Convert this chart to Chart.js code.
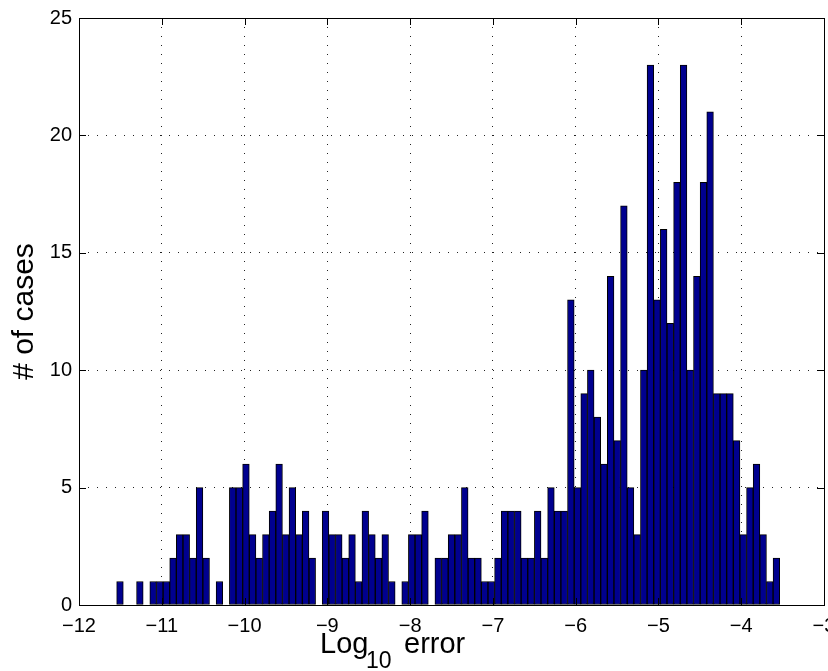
<!DOCTYPE html>
<html>
<head>
<meta charset="utf-8">
<script src="https://cdn.jsdelivr.net/npm/chart.js@4.4.0/dist/chart.umd.min.js"></script>
<style>
  html, body { margin: 0; padding: 0; background: #fff; }
</style>
</head>
<body>
<canvas id="chart" width="828" height="671"></canvas>
<script>
// hist of log10 error, 100 bins (counts)
const binStart = -11.545;
const binWidth = 0.0801;
const counts = [
  1, 0, 0, 1, 0, 1, 1, 1, 2, 3,
  3, 2, 5, 2, 0, 1, 0, 5, 5, 6,
  3, 2, 3, 4, 6, 3, 5, 3, 4, 2,
  0, 4, 3, 3, 2, 3, 1, 4, 3, 2,
  3, 1, 0, 1, 3, 3, 4, 0, 2, 2,
  3, 3, 5, 2, 2, 1, 1, 2, 4, 4,
  4, 2, 2, 4, 2, 5, 4, 4, 13, 5,
  9, 10, 8, 6, 14, 7, 17, 5, 3, 10,
  23, 13, 16, 12, 18, 23, 10, 14, 18, 21,
  9, 9, 9, 7, 3, 5, 6, 3, 1, 2
];
const xTicks = [-12, -11, -10, -9, -8, -7, -6, -5, -4, -3];
const yTicks = [0, 5, 10, 15, 20, 25];
const yTitle = '# of cases';

// bin centres, like matlab hist
const bins = counts.map((c, i) => ({ x: binStart + binWidth * (i + 0.5), y: c }));

const font = 'Liberation Sans, Arial, Helvetica, sans-serif';

// box, inward ticks and axis titles (the x title has a subscript)
const frame = {
  id: 'frame',
  afterDraw(chart) {
    const { ctx, chartArea: a, scales: { x, y } } = chart;
    ctx.save();
    ctx.strokeStyle = '#000';
    ctx.lineWidth = 1;
    ctx.beginPath();
    xTicks.forEach(v => {
      const px = Math.round(x.getPixelForValue(v)) + 0.5;
      ctx.moveTo(px, a.bottom); ctx.lineTo(px, a.bottom - 7);
      ctx.moveTo(px, a.top); ctx.lineTo(px, a.top + 7);
    });
    yTicks.forEach(v => {
      const py = Math.round(y.getPixelForValue(v)) + 0.5;
      ctx.moveTo(a.left, py); ctx.lineTo(a.left + 7, py);
      ctx.moveTo(a.right, py); ctx.lineTo(a.right - 7, py);
    });
    ctx.stroke();
    ctx.strokeRect(Math.round(a.left) + 0.5, Math.round(a.top) + 0.5,
      Math.round(a.right - a.left), Math.round(a.bottom - a.top));

    ctx.fillStyle = '#000';
    ctx.textBaseline = 'alphabetic';
    ctx.textAlign = 'left';
    ctx.font = '29px ' + font;
    ctx.fillText('Log', 320, 653);
    ctx.font = '23px ' + font;
    ctx.fillText('10', 366, 668);
    ctx.font = '29px ' + font;
    ctx.fillText('error', 404, 653);

    ctx.translate(33, (a.top + a.bottom) / 2);
    ctx.rotate(-Math.PI / 2);
    ctx.textAlign = 'center';
    ctx.font = '30px ' + font;
    ctx.fillText(yTitle, 0, 0);
    ctx.restore();
  }
};

const ctx = document.getElementById('chart').getContext('2d');
const myChart = new Chart(ctx, {
  type: 'bar',
  data: {
    datasets: [{
      data: bins,
      backgroundColor: '#00008F',
      borderColor: '#000',
      borderWidth: 1,
      borderSkipped: false,
      barPercentage: 1,
      categoryPercentage: 1
    }]
  },
  options: {
    responsive: false,
    animation: false,
    events: [],
    layout: { padding: { left: 0, top: 18, right: 4, bottom: 0 } },
    plugins: { legend: { display: false }, tooltip: { enabled: false } },
    scales: {
      x: {
        type: 'linear',
        min: -12,
        max: -3,
        offset: false,
        afterFit: s => { s.height = 66; s.paddingLeft = 0; s.paddingRight = 0; },
        afterBuildTicks: s => { s.ticks = xTicks.map(v => ({ value: v })); },
        grid: { color: '#222', lineWidth: 1, drawTicks: false, offset: false },
        border: { display: false, dash: [1, 8] },
        ticks: {
          padding: 9,
          maxRotation: 0,
          autoSkip: false,
          color: '#000',
          font: { family: font, size: 20 },
          callback: v => v < 0 ? '\u2212' + Math.abs(v) : String(v)
        }
      },
      y: {
        min: 0,
        max: 25,
        afterFit: s => { s.width = 79; s.paddingTop = 0; s.paddingBottom = 0; },
        afterBuildTicks: s => { s.ticks = yTicks.map(v => ({ value: v })); },
        grid: { color: '#222', lineWidth: 1, drawTicks: false },
        border: { display: false, dash: [1, 8] },
        ticks: {
          padding: 7,
          color: '#000',
          font: { family: font, size: 20 }
        }
      }
    }
  },
  plugins: [frame]
});
</script>
</body>
</html>
